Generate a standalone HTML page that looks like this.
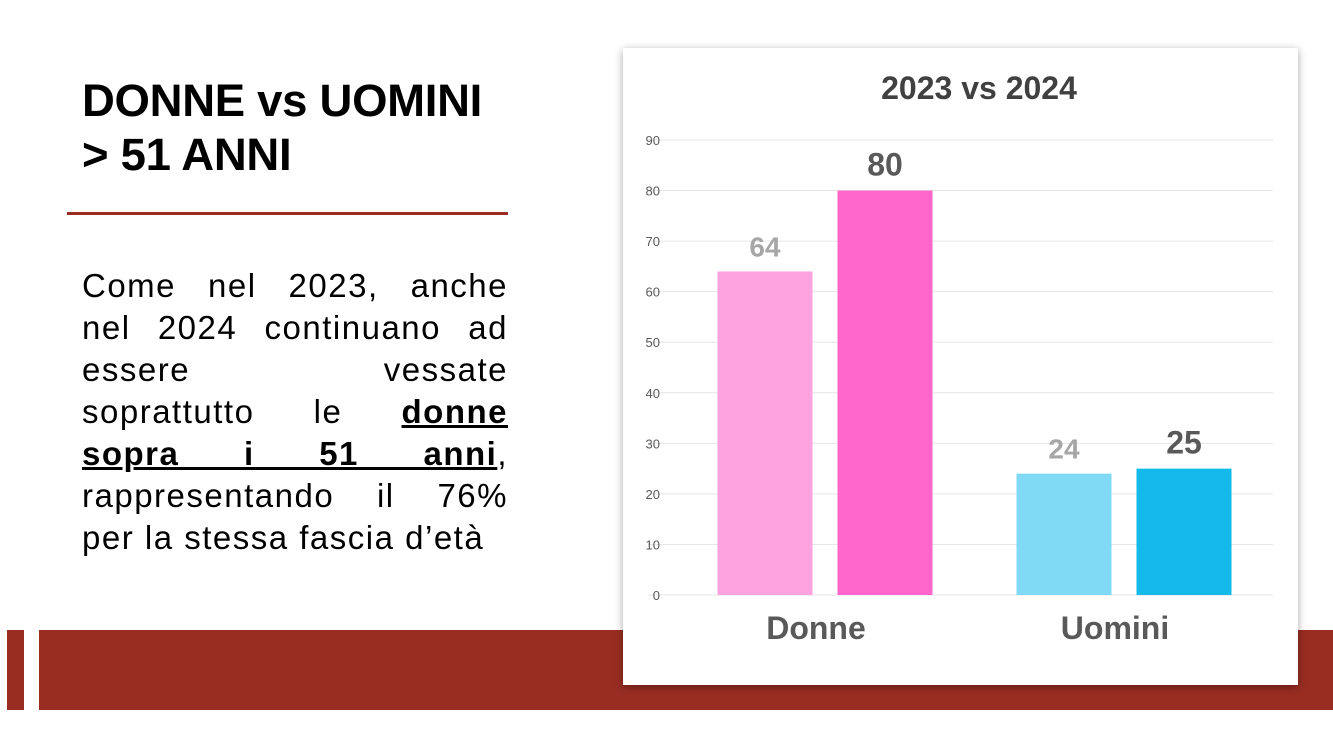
<!DOCTYPE html>
<html><head><meta charset="utf-8"><style>
body{margin:0;width:1333px;height:750px;background:#fff;position:relative;overflow:hidden;font-family:"Liberation Sans",sans-serif}
.abs{position:absolute}
h1{position:absolute;left:82px;top:74px;margin:0;font-size:45.5px;line-height:54px;font-weight:bold;color:#000;letter-spacing:-0.3px}
.para{position:absolute;left:82px;top:265px;width:426px;margin:0;font-size:33px;line-height:42px;color:#000;letter-spacing:1.5px}
.ln{text-align:justify;text-align-last:justify;white-space:nowrap;height:42px}
.ln.last{text-align-last:left}
</style></head><body>
<h1>DONNE vs UOMINI<br>&gt; 51 ANNI</h1>
<div class="abs" style="left:67px;top:212px;width:441px;height:3px;background:#992d22"></div>
<div class="para">
<div class="ln">Come nel 2023, anche</div>
<div class="ln">nel 2024 continuano ad</div>
<div class="ln">essere vessate</div>
<div class="ln">soprattutto le <b><u>donne</u></b></div>
<div class="ln"><b><u>sopra i 51 anni</u></b>,</div>
<div class="ln">rappresentando il 76%</div>
<div class="ln last">per la stessa fascia d’età</div>
</div>
<div class="abs" style="left:7px;top:630px;width:17px;height:80px;background:#992d22"></div>
<div class="abs" style="left:39px;top:630px;width:1294px;height:80px;background:#992d22"></div>
<div class="abs" style="left:623px;top:48px;width:675px;height:637px;background:#fff;box-shadow:0 2px 8px rgba(0,0,0,0.35)">
<svg id="chart" width="675" height="637"></svg>
</div>
<script>
const categories=["Donne","Uomini"];
const series2023=[64,24];
const series2024=[80,25];
const ticks=[0,10,20,30,40,50,60,70,80,90];
const NS="http://www.w3.org/2000/svg";
const svg=document.getElementById('chart');
const y0=547,yTop=92,max=90;
const y=v=>y0-(v/max)*(y0-yTop);
function el(t,a,txt){const e=document.createElementNS(NS,t);for(const k in a)e.setAttribute(k,a[k]);if(txt!=null)e.textContent=txt;svg.appendChild(e);return e;}
const title=el('text',{x:356,y:51,'text-anchor':'middle','font-size':32,'font-weight':'bold',fill:'#404040','font-family':'Liberation Sans'},'2023 vs 2024');


ticks.forEach(t=>{
 const g=el('line',{x1:25,x2:650,y1:y(t),y2:y(t),stroke:'#e6e6e6','stroke-width':1});
 
 
 const l=el('text',{x:37,y:y(t)+5,'text-anchor':'end','font-size':13,fill:'#595959','font-family':'Liberation Sans'},t);
 
 
});
const catCenter=[202,501],bw=95,off=60;
const colors=[["#ffa3e0","#ff66cc"],["#80daf5","#15b9e9"]];
categories.forEach((c,i)=>{
 [series2023[i],series2024[i]].forEach((v,j)=>{
  const cx=catCenter[i]+(j?off:-off);
  const r=el('rect',{x:cx-bw/2,y:y(v),width:bw,height:y0-y(v),fill:colors[i][j]});
  
  
  const t=el('text',{x:cx,y:y(v)-15,'text-anchor':'middle','font-size':j?32:28,'font-weight':'bold',fill:j?'#595959':'#a6a6a6','font-family':'Liberation Sans'},v);
  
  
 });
 const cl=el('text',{x:catCenter[i]-9,y:591,'text-anchor':'middle','font-size':32,'font-weight':'bold',fill:'#595959','font-family':'Liberation Sans'},c);
 
 
});
</script>
</body></html>
